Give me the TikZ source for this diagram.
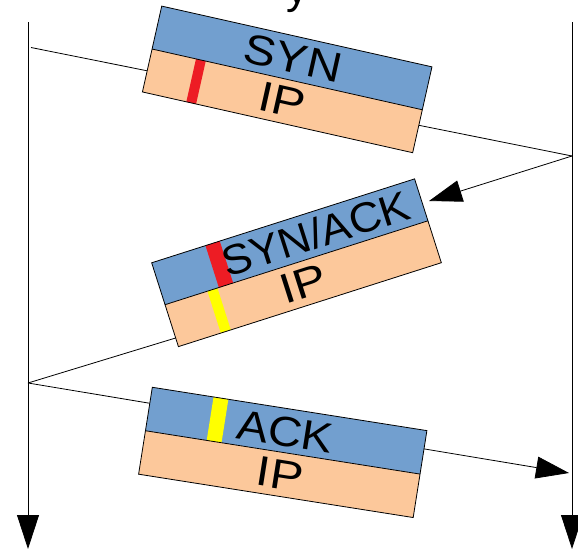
\documentclass[tikz,border=0pt]{standalone}
\usepackage{fontspec}
\setmainfont{Liberation Sans}
\usetikzlibrary{arrows.meta}
\definecolor{hdrblue}{HTML}{729FCF}
\definecolor{ipor}{HTML}{FCC89B}
\definecolor{mred}{HTML}{ED1C24}
\definecolor{myel}{HTML}{FFFF00}
\newcommand\stretchtxt[2]{\scalebox{#1}[1]{#2}}
\tikzset{
  lifeline/.style={line width=0.8pt, -{Triangle[length=34pt,width=22pt]}},
  msg/.style={line width=0.8pt},
  msgarrow/.style={msg, -{Triangle[length=33pt,width=22pt]}},
  band/.style={minimum height=44pt, inner sep=0pt, outer sep=0pt, transform shape},
  hdr/.style={band, fill=hdrblue},
  ipb/.style={band, fill=ipor},
  boxline/.style={draw=black, line width=0.8pt},
  lbl/.style={font=\fontsize{42}{46}\selectfont, inner sep=0pt, transform shape},
}
\begin{document}
\begin{tikzpicture}[x=1pt,y=-1pt]
\useasboundingbox (0,0) rectangle (578,549);
% cut-off text fragment at top
\node[font=\fontsize{44}{48}\selectfont, anchor=base west, inner sep=0pt] (frag) at (286,3) {y};
% lifelines
\coordinate (aTop) at (28,22);
\coordinate (aBot) at (28,549);
\coordinate (bTop) at (572,22);
\coordinate (bBot) at (572,549);
\draw[lifeline] (aTop) -- (aBot);
\draw[lifeline] (bTop) -- (bBot);
% messages
\coordinate (s0) at (31,47.5);
\coordinate (s1) at (572,156);
\coordinate (sa1) at (429,201);
\coordinate (a0) at (28,383);
\coordinate (sa0) at (190,333.6);
\coordinate (ak1) at (569,473);
\draw[msg] (s0) -- (s1);
\draw[msgarrow] (s1) -- (sa1);
\draw[msg] (a0) -- (sa0);
\draw[msgarrow] (a0) -- (ak1);
% SYN packet
\begin{scope}[shift={(287.2,79.4)}, rotate=-12.67]
  \node[hdr, minimum width=277pt] (synH) at (0,-22) {};
  \node[ipb, minimum width=277pt] (synP) at (0,22) {};
  \fill[mred] (-93.5,0) rectangle (-83.5,44);
  \draw[boxline] (synH.north west) -- (synH.north east) -- (synP.south east) -- (synP.south west) -- cycle
    (synH.south west) -- (synH.south east);
  \node[lbl] (synT) at (1,-22) {\stretchtxt{1.15}{SYN}};
  \node[lbl] (synI) at (0,22) {\stretchtxt{1.18}{IP}};
\end{scope}
% SYN/ACK packet
\begin{scope}[shift={(296.5,262.75)}, rotate=17.7]
  \node[hdr, minimum width=276pt] (saH) at (0,-22) {};
  \node[ipb, minimum width=276pt] (saP) at (0,22) {};
  \fill[mred] (-81.5,-44) rectangle (-66.5,0);
  \fill[myel] (-93.5,0) rectangle (-83,44);
  \draw[boxline] (saH.north west) -- (saH.north east) -- (saP.south east) -- (saP.south west) -- cycle
    (saH.south west) -- (saH.south east);
  \node[lbl] (saT) at (27,-22) {\stretchtxt{1.06}{SYN/ACK}};
  \node[lbl] (saI) at (0,22) {\stretchtxt{1.18}{IP}};
\end{scope}
% ACK packet
\begin{scope}[shift={(282.75,452.4)}, rotate=-8.97]
  \node[hdr, minimum width=278pt] (akH) at (0,-22) {};
  \node[ipb, minimum width=278pt] (akP) at (0,22) {};
  \fill[myel] (-77,-44) rectangle (-62,0);
  \draw[boxline] (akH.north west) -- (akH.north east) -- (akP.south east) -- (akP.south west) -- cycle
    (akH.south west) -- (akH.south east);
  \node[lbl] (akT) at (-1,-21) {\stretchtxt{1.12}{ACK}};
  \node[lbl] (akI) at (1,22) {\stretchtxt{1.18}{IP}};
\end{scope}
\end{tikzpicture}
\end{document}
